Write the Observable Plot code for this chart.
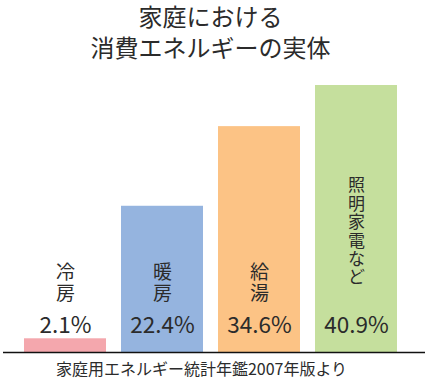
<!DOCTYPE html>
<html>
<head>
<meta charset="utf-8">
<script src="https://cdn.jsdelivr.net/npm/d3@7"></script>
<script src="https://cdn.jsdelivr.net/npm/@observablehq/plot@0.6"></script>
<style>
  html, body { margin: 0; padding: 0; background: #fff; }
  body { width: 427px; height: 380px; overflow: hidden; font-family: "Noto Sans CJK JP", "Noto Sans", sans-serif; color: #2b2b2b; }
  #title { height: 56px; font-size: 24px; line-height: 31px; text-align: center; padding-right: 6px; }
  #caption { height: 24px; font-size: 16px; line-height: 24px; text-align: center; padding-right: 24px; }
  #chart svg { display: block; }
</style>
</head>
<body>
<div id="title">家庭における<br>消費エネルギーの実体</div>
<div id="chart"></div>
<div id="caption">家庭用エネルギー統計年鑑2007年版より</div>
<script>
const categories = ["冷房", "暖房", "給湯", "照明家電など"];
const labelLines = ["冷\n房", "暖\n房", "給\n湯", "照\n明\n家\n電\nな\nど"];
const values = [2.1, 22.4, 34.6, 40.9];
const valueLabels = ["2.1%", "22.4%", "34.6%", "40.9%"];
const colors = ["#f4a7ad", "#95b4df", "#fcc385", "#c5df9d"];

const data = categories.map((c, i) => ({
  category: c, lines: labelLines[i], value: values[i], label: valueLabels[i], color: colors[i]
}));
const horiz = data.filter(d => d.lines.split("\n").length === 2);
const vert = data.filter(d => d.lines.split("\n").length > 2);

const chart = Plot.plot({
  width: 427,
  height: 300,
  marginLeft: 3,
  marginRight: 2,
  marginTop: 29,
  marginBottom: 4,
  style: { fontFamily: "'Noto Sans CJK JP', 'Noto Sans', sans-serif", color: "#2b2b2b", background: "#fff" },
  x: { domain: categories, range: [22, 399], paddingInner: 0.153, paddingOuter: 0, axis: null },
  y: { domain: [0, 40.9], range: [296, 29], axis: null },
  marks: [
    Plot.barY(data, { x: "category", y: "value", fill: "color" }),
    Plot.ruleY([0], { stroke: "#111", strokeWidth: 1.3 }),
    Plot.text(data, { x: "category", y: () => 0, text: "label", dy: -27, fontSize: 22.5, lineAnchor: "middle", fill: "#2b2b2b" }),
    Plot.text(horiz, { x: "category", y: () => 0, text: "lines", dy: -70, fontSize: 19, lineHeight: 1.12, lineAnchor: "middle", fill: "#2b2b2b" }),
    Plot.text(vert, { x: "category", y: () => 0, text: "lines", dy: -121, fontSize: 17, lineHeight: 1.08, lineAnchor: "middle", fill: "#2b2b2b" })
  ]
});
document.getElementById("chart").appendChild(chart);
</script>
</body>
</html>
